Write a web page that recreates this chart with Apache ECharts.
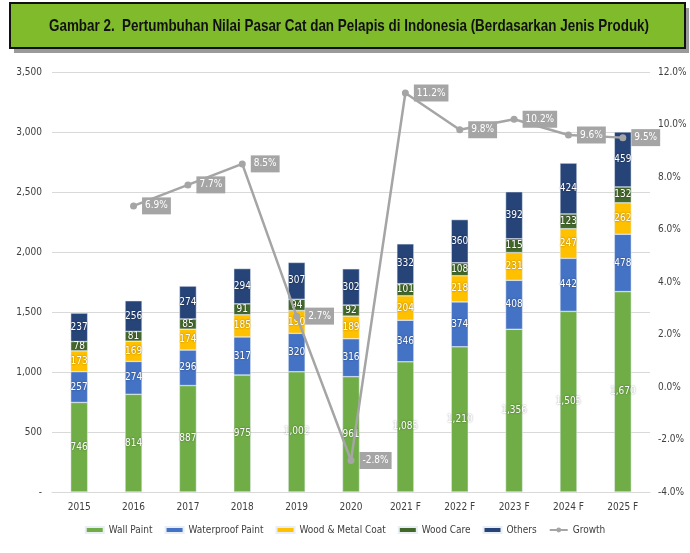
<!DOCTYPE html>
<html lang="id">
<head>
    <meta charset="UTF-8">
    <title>Pertumbuhan Nilai Pasar Cat</title>
    <script src="https://cdn.jsdelivr.net/npm/echarts@6/dist/echarts.min.js"></script>
    <style>
        html, body {margin: 0; padding: 0; background: #fff;}
        #chart {width: 690px; height: 553px;}
    </style>
</head>
<body>
<div id="chart"></div>
<script>
    var years = ['2015', '2016', '2017', '2018', '2019', '2020', '2021 F', '2022 F', '2023 F', '2024 F', '2025 F'];
    var wallPaint = [746, 814, 887, 975, 1002, 961, 1085, 1210, 1356, 1505, 1670];
    var waterproofPaint = [257, 274, 296, 317, 320, 316, 346, 374, 408, 442, 478];
    var woodMetalCoat = [173, 169, 174, 185, 190, 189, 204, 218, 231, 247, 262];
    var woodCare = [78, 81, 85, 91, 94, 92, 101, 108, 115, 123, 132];
    var others = [237, 256, 274, 294, 307, 302, 332, 360, 392, 424, 459];
    var growth = [null, 6.9, 7.7, 8.5, 2.7, -2.8, 11.2, 9.8, 10.2, 9.6, 9.5];

    var font = '"DejaVu Sans Condensed", "Liberation Sans Narrow", "Arial Narrow", sans-serif';
    var myChart = echarts.init(document.getElementById('chart'));

    function fmt(v) {
        return Number(v).toLocaleString('en-US');
    }

    function barSeries(name, data, color) {
        return {
            name: name,
            type: 'bar',
            stack: 'total',
            barWidth: 17,
            data: data,
            itemStyle: {color: color, borderColor: '#e8eef5', borderWidth: 0.5},
            label: {
                show: true,
                position: ['50%', '50%'],
                align: 'center',
                verticalAlign: 'middle',
                color: '#fff',
                fontFamily: font,
                fontSize: 10,
                textShadowColor: 'rgba(0,0,0,0.45)',
                textShadowBlur: 2,
                formatter: function (p) { return fmt(p.value); }
            },
            labelLayout: {hideOverlap: false}
        };
    }

    var option = {
        backgroundColor: '#fff',
        textStyle: {fontFamily: font},
        graphic: [
            {type: 'rect', shape: {x: 14, y: 8, width: 675, height: 45}, style: {fill: '#9a9a9a'}},
            {type: 'rect', shape: {x: 10, y: 3, width: 675, height: 45}, style: {fill: '#80bb2b', stroke: '#111', lineWidth: 2}},
            {type: 'text', x: 349, y: 26, scaleX: 0.79, style: {
                text: 'Gambar 2.  Pertumbuhan Nilai Pasar Cat dan Pelapis di Indonesia (Berdasarkan Jenis Produk)',
                fontFamily: '"Liberation Sans", Arial, sans-serif', fontSize: 17, fontWeight: 'bold', fill: '#111',
                align: 'center', verticalAlign: 'middle'
            }}
        ],
        grid: {left: 52, right: 40, top: 72, bottom: 61},
        legend: {
            bottom: 13,
            left: 'center',
            itemWidth: 18,
            itemHeight: 6,
            itemGap: 12,
            textStyle: {color: '#404040', fontSize: 10, fontFamily: font},
            data: [
                {name: 'Wall Paint', icon: 'rect'},
                {name: 'Waterproof Paint', icon: 'rect'},
                {name: 'Wood & Metal Coat', icon: 'rect'},
                {name: 'Wood Care', icon: 'rect'},
                {name: 'Others', icon: 'rect'},
                {name: 'Growth'}
            ]
        },
        xAxis: {
            type: 'category',
            data: years,
            axisTick: {show: false},
            axisLine: {lineStyle: {color: '#d9d9d9', width: 1}},
            axisLabel: {color: '#404040', fontSize: 10, margin: 10, fontFamily: font}
        },
        yAxis: [
            {
                type: 'value',
                min: 0, max: 3500, interval: 500,
                axisLine: {show: false},
                axisTick: {show: false},
                splitLine: {lineStyle: {color: '#d9d9d9', width: 1}},
                axisLabel: {
                    color: '#404040', fontSize: 10, margin: 10, fontFamily: font,
                    formatter: function (v) { return v === 0 ? '-' : fmt(v); }
                }
            },
            {
                type: 'value',
                min: -4, max: 12, interval: 2,
                axisLine: {show: false},
                axisTick: {show: false},
                splitLine: {show: false},
                axisLabel: {
                    color: '#404040', fontSize: 10, margin: 8, fontFamily: font,
                    formatter: function (v) { return v.toFixed(1) + '%'; }
                }
            }
        ],
        series: [
            barSeries('Wall Paint', wallPaint, '#70ad47'),
            barSeries('Waterproof Paint', waterproofPaint, '#4472c4'),
            barSeries('Wood & Metal Coat', woodMetalCoat, '#ffc000'),
            barSeries('Wood Care', woodCare, '#43682b'),
            barSeries('Others', others, '#264478'),
            {
                name: 'Growth',
                type: 'line',
                yAxisIndex: 1,
                data: growth,
                z: 5,
                symbol: 'circle',
                symbolSize: 7,
                lineStyle: {color: '#a5a5a5', width: 2.5},
                itemStyle: {color: '#a5a5a5'},
                label: {
                    show: true,
                    position: 'right',
                    distance: 5,
                    color: '#fff',
                    backgroundColor: '#a5a5a5',
                    padding: [4, 3, 3, 3],
                    fontSize: 10,
                    fontFamily: font,
                    formatter: function (p) { return p.value.toFixed(1) + '%'; }
                }
            }
        ]
    };
    myChart.setOption(option);
</script>
</body>
</html>
